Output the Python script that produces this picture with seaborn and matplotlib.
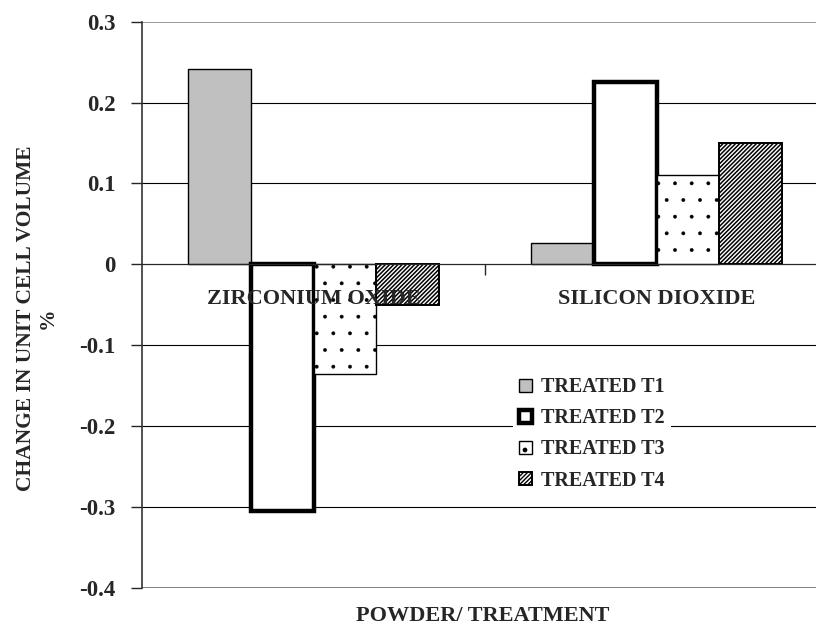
import pandas as pd
import numpy as np
import matplotlib
matplotlib.use('Agg')
import matplotlib.pyplot as plt
from matplotlib.patches import Patch
import seaborn as sns

sns.set_style("white")
plt.rcParams['font.family'] = ['Liberation Serif', 'DejaVu Serif']
plt.rcParams['font.weight'] = 'bold'

powders = ['ZIRCONIUM OXIDE', 'SILICON DIOXIDE']
treatments = ['TREATED T1', 'TREATED T2', 'TREATED T3', 'TREATED T4']
vals_zro2 = [0.241, -0.305, -0.135, -0.050]
vals_sio2 = [0.027, 0.226, 0.111, 0.150]
yticks = [-0.4, -0.3, -0.2, -0.1, 0, 0.1, 0.2, 0.3]
ytick_labels = ['-0.4', '-0.3', '-0.2', '-0.1', '0', '0.1', '0.2', '0.3']

df = pd.DataFrame({
    'powder': [powders[0]] * 4 + [powders[1]] * 4,
    'treatment': treatments * 2,
    'change': vals_zro2 + vals_sio2,
})

fig = plt.figure(figsize=(8.16, 6.37), dpi=100)
ax = fig.add_axes([0.174, 0.077, 0.841, 0.889])

sns.barplot(data=df, x='powder', y='change', hue='treatment', order=powders,
            hue_order=treatments, width=0.73, ax=ax, legend=False)

# bar styles, one per treatment
faces = ['#c0c0c0', 'white', 'white', 'white']
hatches = [None, None, '.', '////////']
widths = [1.0, 3.2, 1.0, 1.4]
hatch_lw = [1.0, 1.0, 0.3, 1.1]


def style(p, fc, h, lw, hlw):
    p.set_facecolor(fc)
    p.set_edgecolor('black')
    p.set_linewidth(lw)
    p.set_alpha(1)
    if h:
        p.set_hatch(h)
        if hasattr(p, 'set_hatch_linewidth'):
            p.set_hatch_linewidth(hlw)


for cont, fc, h, lw, hlw in zip(ax.containers, faces, hatches, widths, hatch_lw):
    for bar in cont:
        style(bar, fc, h, lw, hlw)

ax.set_ylim(-0.4, 0.3)
ax.set_yticks(yticks)
ax.set_yticklabels(ytick_labels)
ax.yaxis.grid(True, color='black', linewidth=0.8)
gl = ax.get_ygridlines()
gl[0].set_color('#777777')
gl[0].set_linewidth(1.3)
gl[-1].set_color('#888888')
gl[-1].set_linewidth(1.2)
ax.set_axisbelow(True)
ax.tick_params(axis='y', direction='out', length=8, width=1, labelsize=16.5, pad=11, left=True)

# category axis sits on zero
ax.spines['bottom'].set_position(('data', 0))
ax.spines['bottom'].set_linewidth(0.8)
ax.spines[['top', 'right']].set_visible(False)
ax.spines['left'].set_color('#333333')
ax.spines['left'].set_linewidth(1.2)
ax.set_xlim(-0.5, 1.5)
ax.set_xticks([0.5], minor=True)
ax.tick_params(axis='x', which='minor', direction='out', length=8, width=1, bottom=True)
ax.tick_params(axis='x', which='major', length=0, labelbottom=False)

# category names drawn over the bars, just under the zero line
for i, name in enumerate(powders):
    ax.text(i, -0.03, name, ha='center', va='top', fontsize=16, fontweight='bold', zorder=10)

ax.set_xlabel('')
ax.set_ylabel('')
fig.text(0.591, 0.033, 'POWDER/ TREATMENT', ha='center', va='center', fontsize=16, fontweight='bold')
fig.text(0.045, 0.5, 'CHANGE IN UNIT CELL VOLUME\n%', ha='center', va='center', rotation=90,
         fontsize=15.5, fontweight='bold', linespacing=1.1)

# legend built from the bar styles
handles = []
for fc, h, lw, hlw in zip(faces, hatches, widths, hatch_lw):
    p = Patch()
    style(p, fc, h, lw, hlw)
    handles.append(p)
leg = ax.legend(handles, treatments, loc='center', bbox_to_anchor=(0.656, 0.272),
                frameon=True, fontsize=14.5, handlelength=0.65, handleheight=0.65,
                handletextpad=0.45, labelspacing=0.55, borderpad=0.3)
leg.get_frame().set_edgecolor('none')
leg.get_frame().set_facecolor('white')
leg.get_frame().set_alpha(1)

fig.savefig('out.png', dpi=100)
